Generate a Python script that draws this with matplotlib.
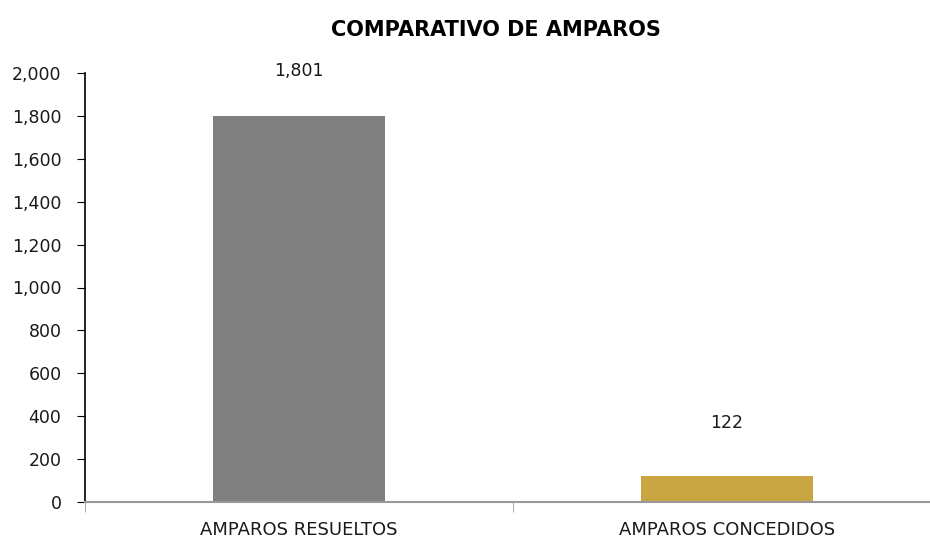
import matplotlib
matplotlib.use('Agg')
import matplotlib.pyplot as plt
from matplotlib.ticker import FuncFormatter

categories = ['AMPAROS RESUELTOS', 'AMPAROS CONCEDIDOS']
values = [1801, 122]
colors = ['#808080', '#C9A642']
label_offsets = [32, 38]  # points above bar top

plt.rcParams['font.family'] = ['DejaVu Sans']

fig = plt.figure(figsize=(9.3, 5.4), dpi=100)
ax = fig.add_axes([85/930, 38/540, 856/930, 429/540])

x = list(range(len(categories)))
ax.bar(x, values, width=0.4, color=colors)
ax.set_xlim(-0.5, len(categories) - 0.5)
ax.set_ylim(0, 2000)
ax.set_yticks(range(0, 2001, 200))
ax.yaxis.set_major_formatter(FuncFormatter(lambda v, p: f'{int(v):,}'))

for xi, v, off in zip(x, values, label_offsets):
    ax.annotate(f'{v:,}', (xi, v), xytext=(0, off), textcoords='offset points',
                ha='center', va='center', fontsize=12.5, color='#1a1a1a')

ax.set_xticks(x)
ax.set_xticklabels(categories, fontsize=13, color='#1a1a1a')
ax.set_xticks([-0.5 + i for i in range(len(categories) + 1)], minor=True)
ax.tick_params(axis='x', which='major', length=0, pad=14)
ax.tick_params(axis='x', which='minor', length=7, color='#999999', direction='out')
ax.tick_params(axis='y', labelsize=12.5, labelcolor='#1a1a1a', length=6, color='black', pad=11)

for s in ['top', 'right']:
    ax.spines[s].set_visible(False)
ax.spines['left'].set_color('black')
ax.spines['left'].set_linewidth(1.2)
ax.spines['bottom'].set_color('#999999')
ax.spines['bottom'].set_linewidth(1.5)

fig.text(496/930, 1 - 30/540, 'COMPARATIVO DE AMPAROS', ha='center', va='center',
         fontsize=15, fontweight='bold')

fig.savefig('out.png', dpi=100)
